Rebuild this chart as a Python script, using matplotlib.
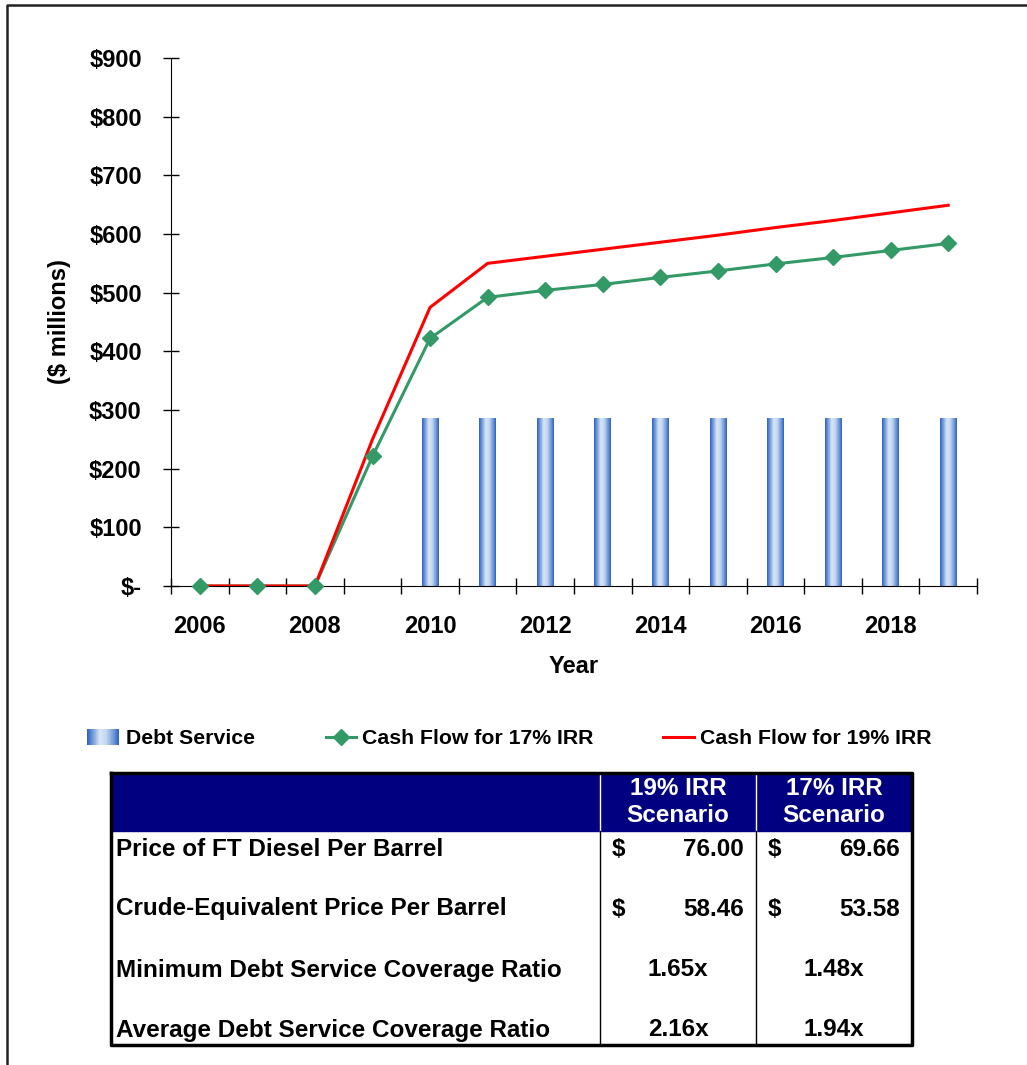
import numpy as np
import matplotlib
matplotlib.use("Agg")
import matplotlib.pyplot as plt
from matplotlib.colors import LinearSegmentedColormap

plt.rcParams['font.family'] = ['Liberation Sans', 'DejaVu Sans']
plt.rcParams['font.weight'] = 'bold'

# data
years = np.arange(2006, 2020)
cash_17 = [0, 0, 0, 221, 422, 492, 504, 514, 526, 537, 549, 560, 572, 584]
cash_19 = [0, 0, 0, 250, 475, 550, 562, 574, 586, 598, 611, 623, 636, 649]
debt_years = np.arange(2010, 2020)
debt_service = [287] * 10

row_labels = ["Price of FT Diesel Per Barrel", "Crude-Equivalent Price Per Barrel",
              "Minimum Debt Service Coverage Ratio", "Average Debt Service Coverage Ratio"]
col_headers = ["19% IRR\nScenario", "17% IRR\nScenario"]
irr19_vals = ["76.00", "58.46", "1.65x", "2.16x"]
irr17_vals = ["69.66", "53.58", "1.48x", "1.94x"]
has_dollar = [True, True, False, False]

W, H = 1027, 1065
fig = plt.figure(figsize=(W / 100, H / 100), dpi=100)
ax = fig.add_axes([171 / W, 1 - 586 / H, (977 - 171) / W, (586 - 58) / H])

green = '#339966'
red = '#ff0000'
grad = LinearSegmentedColormap.from_list('g', ['#2f62c6', '#7ea3dc', '#d9e6f6', '#c4d7f0', '#7ea3dc', '#2f62c6'])

bars = ax.bar(debt_years, debt_service, width=0.29, color='none', edgecolor='none', zorder=2)
img = np.linspace(0, 1, 64).reshape(1, -1)
for b in bars:
    x0, w, h = b.get_x(), b.get_width(), b.get_height()
    im = ax.imshow(img, cmap=grad, extent=(x0, x0 + w, 0, h), aspect='auto', zorder=2)
    im.set_clip_path(b)

ax.plot(years, cash_17, color=green, lw=2.2, zorder=3)
ax.plot(years, cash_19, color=red, lw=2.2, zorder=4)
ax.plot(years, cash_17, ls='none', marker='D', ms=8, color=green, zorder=5, clip_on=False)

fs = 17
ax.set_xlim(2005.5, 2019.5)
ax.set_ylim(0, 900)
ax.set_yticks(np.arange(0, 901, 100))
ax.set_yticklabels(['$-'] + ['$%d' % v for v in range(100, 901, 100)])
ax.set_xticks(np.arange(2006, 2020, 2))
ax.set_xticks(np.arange(2005.5, 2020, 1), minor=True)
ax.tick_params(axis='x', which='major', length=0, pad=21, labelsize=fs)
ax.tick_params(axis='x', which='minor', direction='inout', length=11, width=1)
ax.tick_params(axis='y', direction='inout', length=11, width=1, pad=15.5, labelsize=fs)
for s in ['top', 'right']:
    ax.spines[s].set_visible(False)
ax.set_xlabel('Year', fontsize=fs, fontweight='bold', labelpad=12)
ax.set_ylabel('($ millions)', fontsize=fs, fontweight='bold', labelpad=13)

# overlay in pixel coords for border, legend and table
ov = fig.add_axes([0, 0, 1, 1], zorder=10)
ov.set_xlim(0, W)
ov.set_ylim(H, 0)
ov.axis('off')
ov.patch.set_alpha(0)
ov.plot([7, 7, W], [H, 5, 5], color='#222222', lw=1.8)

# legend
lfs = 15.3
ov.imshow(img, cmap=grad, extent=(87, 119, 745, 729), aspect='auto')
ov.text(126, 738, 'Debt Service', fontsize=lfs, va='center')
ov.plot([326, 356], [737, 737], color=green, lw=2.2)
ov.plot([341], [737], marker='D', ms=8, color=green)
ov.text(362, 738, 'Cash Flow for 17% IRR', fontsize=lfs, va='center')
ov.plot([663, 694], [737, 737], color=red, lw=2.2)
ov.text(700, 738, 'Cash Flow for 19% IRR', fontsize=lfs, va='center')

# table
tfs = 17.5
tx0, tx1, ty0, ty1 = 111, 912, 773, 1045
c1, c2 = 600, 756
ov.fill_between([tx0, tx1], 773, 831, color='#000080')
ov.plot([c1, c1], [773, 831], color='white', lw=1)
ov.plot([c2, c2], [773, 831], color='white', lw=1)
ov.plot([c1, c1], [831, ty1], color='black', lw=1)
ov.plot([c2, c2], [831, ty1], color='black', lw=1)
ov.plot([tx0, tx1, tx1, tx0, tx0], [ty0, ty0, ty1, ty1, ty0], color='black', lw=2.5)
for i, hd in enumerate(col_headers):
    cx = (c1 + c2) / 2 if i == 0 else (c2 + tx1) / 2
    ov.text(cx, 802, hd, color='white', fontsize=tfs, ha='center', va='center', linespacing=1.2)
row_y = [849, 909, 970, 1030]
for i, lab in enumerate(row_labels):
    y = row_y[i]
    ov.text(116, y, lab, fontsize=tfs, va='center')
    for xl, xr, v in [(c1, c2, irr19_vals[i]), (c2, tx1, irr17_vals[i])]:
        if has_dollar[i]:
            ov.text(xl + 12, y, '$', fontsize=tfs, va='center')
            ov.text(xr - 12, y, v, fontsize=tfs, va='center', ha='right')
        else:
            ov.text((xl + xr) / 2, y, v, fontsize=tfs, va='center', ha='center')

fig.savefig('out.png', dpi=100)
